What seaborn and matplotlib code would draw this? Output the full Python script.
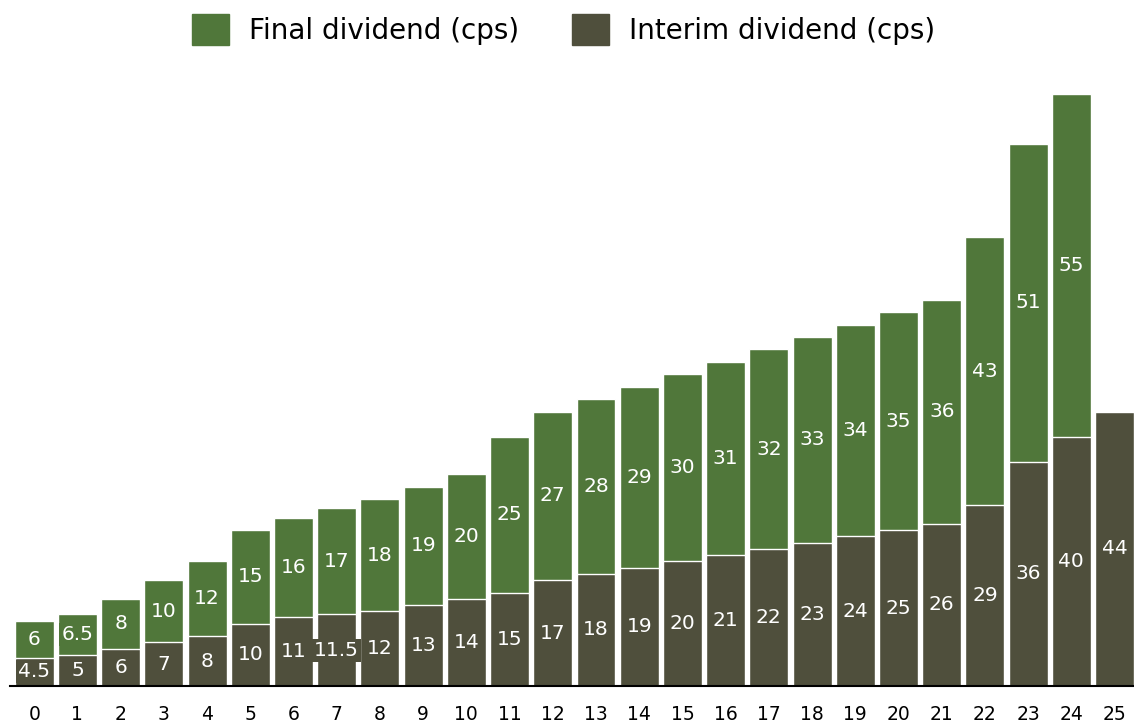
import matplotlib
matplotlib.use("Agg")
import matplotlib.pyplot as plt
import seaborn as sns
import pandas as pd
from matplotlib.patches import Patch

# dividend history, cents per share
years = [str(i) for i in range(26)]
interim = [4.5, 5, 6, 7, 8, 10, 11, 11.5, 12, 13, 14, 15, 17, 18, 19, 20, 21, 22, 23, 24, 25, 26, 29, 36, 40, 44]
final = [6, 6.5, 8, 10, 12, 15, 16, 17, 18, 19, 20, 25, 27, 28, 29, 30, 31, 32, 33, 34, 35, 36, 43, 51, 55, None]

green = "#50773a"
dark = "#4f4f3c"

sns.set_theme(style="white")
plt.rcParams["font.family"] = ["DejaVu Sans"]

df = pd.DataFrame({"year": years, "interim": interim, "final": final})
df["total"] = df["interim"] + df["final"].fillna(0)

fig = plt.figure(figsize=(11.34, 7.24), dpi=100)
ax = fig.add_axes([10 / 1134, 1 - 686 / 724, 1 - 10 / 1134, (686 - 94) / 724])

# stacked: draw the total in green, then interim over it
sns.barplot(data=df, x="year", y="total", color=green, saturation=1, width=0.9, ax=ax)
sns.barplot(data=df, x="year", y="interim", color=dark, saturation=1, width=0.9, ax=ax)

for i, row in df.iterrows():
    ax.text(i, row["interim"] / 2, f"{row['interim']:g}", color="white", fontsize=14.5,
            ha="center", va="center",
            bbox=dict(facecolor=dark, edgecolor="none", pad=1.5))
    if pd.notna(row["final"]):
        ax.text(i, row["interim"] + row["final"] / 2, f"{row['final']:g}", color="white",
                fontsize=14.5, ha="center", va="center",
                bbox=dict(facecolor=green, edgecolor="none", pad=1.5))

ax.set_xlim(-0.56, 25.45)
ax.set_ylim(0, 95)
ax.set_xlabel("")
ax.set_ylabel("")
ax.set_yticks([])
for s in ["left", "top", "right"]:
    ax.spines[s].set_visible(False)
ax.spines["bottom"].set_color("black")
ax.spines["bottom"].set_linewidth(1.5)
ax.tick_params(axis="x", length=0, labelsize=13.5, pad=14, colors="black")

handles = [Patch(color=green, label="Final dividend (cps)"),
           Patch(color=dark, label="Interim dividend (cps)")]
fig.legend(handles=handles, loc="center", bbox_to_anchor=(0.497, 0.959), ncol=2,
           frameon=False, fontsize=20, handlelength=1.33, handleheight=1.33,
           columnspacing=1.9, handletextpad=0.72, labelcolor="black")

fig.savefig("out.png", dpi=100)
